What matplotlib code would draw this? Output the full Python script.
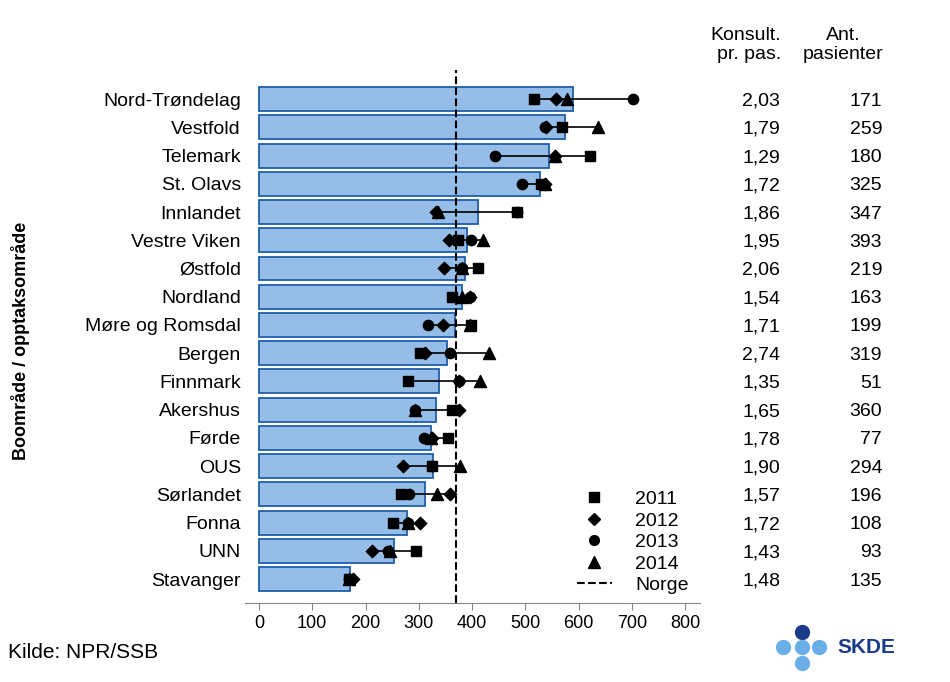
import matplotlib.pyplot as plt
from matplotlib.lines import Line2D

areas = ["Nord-Trøndelag", "Vestfold", "Telemark", "St. Olavs", "Innlandet", "Vestre Viken",
         "Østfold", "Nordland", "Møre og Romsdal", "Bergen", "Finnmark", "Akershus", "Førde",
         "OUS", "Sørlandet", "Fonna", "UNN", "Stavanger"]
mean_rate = [590, 575, 545, 528, 411, 391, 387, 381, 368, 353, 338, 332, 323, 327, 312, 278, 254, 171]
y2011 = [516, 569, 622, 530, 485, 374, 411, 362, 398, 302, 280, 362, 355, 325, 267, 252, 295, 169]
y2012 = [558, 539, 556, 537, 332, 357, 347, 396, 345, 312, 376, 376, 325, 270, 359, 302, 212, 176]
y2013 = [702, 537, 443, 494, 485, 398, 381, 396, 317, 359, 376, 293, 310, 325, 282, 280, 242, 169]
y2014 = [578, 637, 556, 537, 336, 421, 381, 381, 396, 432, 415, 293, 323, 377, 334, 280, 246, 169]
konsult = ["2,03", "1,79", "1,29", "1,72", "1,86", "1,95", "2,06", "1,54", "1,71", "2,74",
           "1,35", "1,65", "1,78", "1,90", "1,57", "1,72", "1,43", "1,48"]
pasienter = ["171", "259", "180", "325", "347", "393", "219", "163", "199", "319",
             "51", "360", "77", "294", "196", "108", "93", "135"]
norge = 370

plt.rcParams["font.family"] = "Liberation Sans"
fig = plt.figure(figsize=(9.5, 6.82), dpi=100)
ax = fig.add_axes([0.258, 0.1158, 0.479, 0.7815])

pos = list(range(len(areas)))
ax.barh(pos, mean_rate, height=0.85, color="#95bde8", edgecolor="#1f5ea8", linewidth=1.3, zorder=1)
for i in pos:
    vals = [y2011[i], y2012[i], y2013[i], y2014[i]]
    ax.plot([min(vals), max(vals)], [i, i], color="black", lw=1.2, zorder=2)
ax.scatter(y2011, pos, marker="s", s=55, color="black", zorder=3)
ax.scatter(y2012, pos, marker="D", s=40, color="black", zorder=3)
ax.scatter(y2013, pos, marker="o", s=55, color="black", zorder=3)
ax.scatter(y2014, pos, marker="^", s=75, color="black", zorder=3)
ax.axvline(norge, color="black", ls="--", lw=1.5, zorder=2)

ax.set_ylim(17.85, -1.03)
ax.set_xlim(-26, 828)
ax.set_yticks(pos)
ax.set_yticklabels(areas, fontsize=14)
ax.tick_params(axis="y", length=0, pad=3)
ax.set_xticks(range(0, 900, 100))
ax.tick_params(axis="x", labelsize=13, length=5, color="#888888")
for s in ["top", "right", "left"]:
    ax.spines[s].set_visible(False)
ax.spines["bottom"].set_color("#888888")
fig.text(0.022, 0.5, "Boområde / opptaksområde", fontsize=13, fontweight="bold",
         rotation=90, ha="center", va="center")

handles = [Line2D([], [], marker="s", ls="", color="black", ms=7),
           Line2D([], [], marker="D", ls="", color="black", ms=6),
           Line2D([], [], marker="o", ls="", color="black", ms=7),
           Line2D([], [], marker="^", ls="", color="black", ms=9),
           Line2D([], [], ls="--", color="black", lw=1.5)]
ax.legend(handles, ["2011", "2012", "2013", "2014", "Norge"], loc="lower right",
          bbox_to_anchor=(1.0, -0.005), frameon=False, fontsize=14, handlelength=1.8,
          handletextpad=1.2, labelspacing=0.2, borderaxespad=0.2)

tr = ax.get_yaxis_transform()
for i in pos:
    ax.text(1.176, i, konsult[i], transform=tr, ha="right", va="center_baseline", fontsize=14, clip_on=False)
    ax.text(1.40, i, pasienter[i], transform=tr, ha="right", va="center_baseline", fontsize=14, clip_on=False)
fig.text(0.822, 0.96, "Konsult.\npr. pas.", ha="right", va="top", fontsize=14, linespacing=1.1,
         multialignment="right")
fig.text(0.93, 0.96, "Ant.\npasienter", ha="right", va="top", fontsize=14, linespacing=1.1,
         multialignment="center")

fig.text(0.008, 0.035, "Kilde: NPR/SSB", fontsize=15)
# SKDE logo
dots = [(0.844, 0.073, "#1a3a8a"), (0.824, 0.051, "#6aaee8"), (0.844, 0.051, "#6aaee8"),
        (0.862, 0.051, "#6aaee8"), (0.844, 0.028, "#6aaee8")]
for x, y, c in dots:
    fig.add_artist(Line2D([x], [y], marker="o", ms=10, color=c, ls="", transform=fig.transFigure))
fig.text(0.881, 0.051, "SKDE", fontsize=15, fontweight="bold", color="#1a3a8a", va="center")

fig.savefig("out.png", dpi=100)
